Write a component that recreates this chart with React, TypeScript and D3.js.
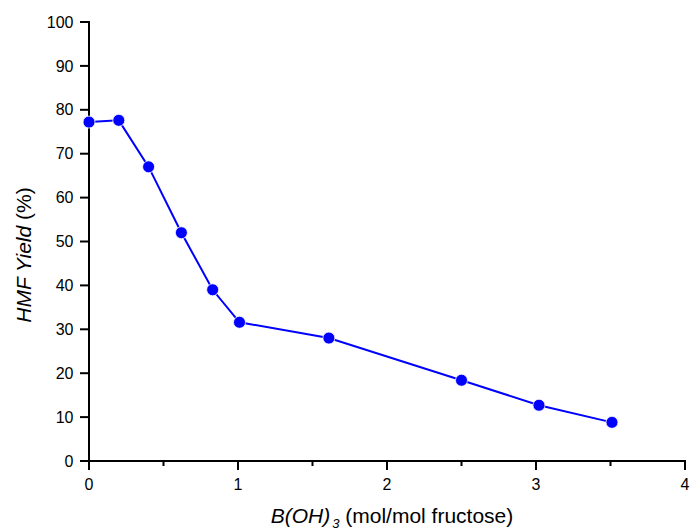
import React from "react";
import * as d3 from "d3";

const xValues = [0, 0.2, 0.4, 0.62, 0.83, 1.01, 1.61, 2.5, 3.02, 3.51];
const yValues = [77.2, 77.6, 67.0, 52.0, 39.0, 31.6, 28.0, 18.4, 12.7, 8.8];
const xTicks = [0, 1, 2, 3, 4];
const xMinorTicks = [0.5, 1.5, 2.5, 3.5];
const yTicks = [0, 10, 20, 30, 40, 50, 60, 70, 80, 90, 100];

export default function App() {
  const W = 690, H = 532;
  const x = d3.scaleLinear().domain([0, 4]).range([89, 685]);
  const y = d3.scaleLinear().domain([0, 100]).range([461, 22]);
  const pts = xValues.map((v, i) => [v, yValues[i]] as [number, number]);
  const line = d3.line<[number, number]>().x(d => x(d[0])).y(d => y(d[1]));
  const font = "'Liberation Sans', Arial, sans-serif";
  return (
    <svg width={W} height={H} style={{ position: "absolute", left: 0, top: 0, background: "#fff" }} fontFamily={font}>
      <rect width={W} height={H} fill="#fff" />
      {/* axes */}
      <line x1={x(0)} x2={x(4) + 1} y1={y(0)} y2={y(0)} stroke="#000" strokeWidth={2} />
      <line x1={x(0)} x2={x(0)} y1={y(0) + 1} y2={y(100) - 1} stroke="#000" strokeWidth={2} />
      {yTicks.map(t => (
        <g key={"y" + t}>
          <line x1={x(0) - 9} x2={x(0)} y1={y(t)} y2={y(t)} stroke="#000" strokeWidth={2} />
          <text x={73.5} y={y(t)} dy="0.35em" textAnchor="end" fontSize={16}>{t}</text>
        </g>
      ))}
      {xTicks.map(t => (
        <g key={"x" + t}>
          <line x1={x(t)} x2={x(t)} y1={y(0)} y2={y(0) + 9} stroke="#000" strokeWidth={2} />
          <text x={x(t)} y={490} textAnchor="middle" fontSize={16}>{t}</text>
        </g>
      ))}
      {xMinorTicks.map(t => (
        <line key={"m" + t} x1={x(t)} x2={x(t)} y1={y(0)} y2={y(0) + 5} stroke="#000" strokeWidth={2} />
      ))}
      {/* series */}
      <path d={line(pts) || ""} fill="none" stroke="#0000ff" strokeWidth={2} />
      {pts.map((p, i) => (
        <circle key={i} cx={x(p[0])} cy={y(p[1])} r={6} fill="#0000ff" stroke="#fff" strokeWidth={0.8} />
      ))}
      {/* axis titles */}
      <text x={392} y={523} textAnchor="middle" fontSize={21}>
        <tspan fontStyle="italic">B(OH)</tspan>
        <tspan fontStyle="italic" fontSize={13} dx={2} dy={5}>3</tspan>
        <tspan dy={-5}> (mol/mol fructose)</tspan>
      </text>
      <text transform={`translate(31,255) rotate(-90)`} textAnchor="middle" fontSize={21}>
        <tspan fontStyle="italic">HMF Yield</tspan>
        <tspan> (%)</tspan>
      </text>
    </svg>
  );
}
